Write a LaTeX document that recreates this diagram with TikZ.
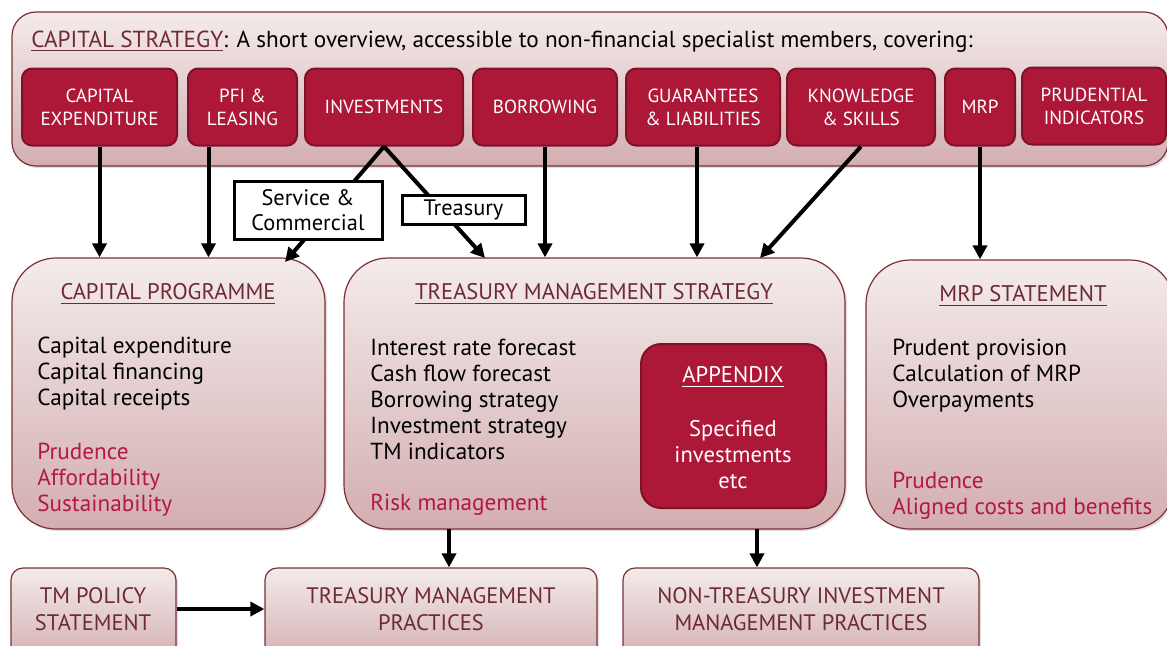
\documentclass[tikz,border=0pt]{standalone}
\usepackage{fontspec}
\setmainfont{PT Sans}
\usetikzlibrary{arrows.meta, fit, calc, shadows}

\definecolor{capred}{HTML}{AD1838}
\definecolor{capredline}{HTML}{7E1228}
\definecolor{boxtop}{HTML}{F4EBEB}
\definecolor{boxbot}{HTML}{D3AEB0}
\definecolor{boxline}{HTML}{7B3038}
\definecolor{headtxt}{HTML}{6E2A33}
\definecolor{redtxt}{HTML}{B31842}

\begin{document}
\begin{tikzpicture}[x=0.5pt, y=-0.5pt,
    panel/.style={draw=boxline, line width=0.6pt, top color=boxtop, bottom color=boxbot, inner sep=0pt,
        drop shadow={opacity=0.25, shadow xshift=1pt, shadow yshift=-1pt}},
    topic/.style={draw=capredline, line width=1pt, fill=capred, rounded corners=5pt, inner sep=0pt,
        minimum height=38.5pt, text=white, align=center, font=\fontsize{9.5}{11.5}\selectfont},
    flow/.style={line width=2pt, -{Triangle[length=7pt,width=7pt]}},
    tag/.style={draw, line width=1.5pt, fill=white, inner sep=0pt, align=center, font=\fontsize{11.2}{12.8}\selectfont},
    head/.style={text=headtxt, font=\fontsize{11.3}{13}\selectfont},
    item/.style={anchor=west, align=left, inner sep=0pt, font=\fontsize{11.6}{13}\selectfont},
    foot/.style={text=headtxt, align=center, font=\fontsize{11.2}{13.5}\selectfont},
]
\useasboundingbox (0,0) rectangle (1167,645);
\clip (0,0) rectangle (1167,645);

% capital strategy band
\node[panel, rounded corners=12pt, fit={(12,12) (1168,166)}] (strategy) {};
\node[anchor=west, inner sep=0pt, font=\fontsize{11.6}{13}\selectfont] (title) at (31,42)
    {\textcolor{headtxt}{\underline{CAPITAL STRATEGY}}: A short overview, accessible to non-financial specialist members, covering:};
\node[topic, minimum width=77.5pt] (capex) at (99.5,107) {CAPITAL\\EXPENDITURE};
\node[topic, minimum width=54.5pt] (pfi) at (242.5,107) {PFI \&\\LEASING};
\node[topic, minimum width=79pt] (invest) at (384,107) {INVESTMENTS};
\node[topic, minimum width=72pt] (borrow) at (545,107) {BORROWING};
\node[topic, minimum width=77pt] (guarant) at (703,107) {GUARANTEES\\\& LIABILITIES};
\node[topic, minimum width=74pt] (skills) at (861,107) {KNOWLEDGE\\\& SKILLS};
\node[topic, minimum width=35pt] (mrp) at (980,107) {MRP};
\node[topic, minimum width=72pt] (prudent) at (1094,106) {PRUDENTIAL\\INDICATORS};

% capital programme
\node[panel, rounded corners=22pt, fit={(12,258) (325,529)}] (cprog) {};
\node[head] (cprog title) at (168,294) {\underline{CAPITAL PROGRAMME}};
\node[item] (cprog list) at (37,373.5) {Capital expenditure\\Capital financing\\Capital receipts};
\node[item, text=redtxt] (cprog tests) at (37,479.5) {Prudence\\Affordability\\Sustainability};

% treasury management strategy
\node[panel, rounded corners=22pt, fit={(344,258) (845,529)}] (tms) {};
\node[head] (tms title) at (594,294) {\underline{TREASURY MANAGEMENT STRATEGY}};
\node[item] (tms list) at (370,399.5) {Interest rate forecast\\Cash flow forecast\\Borrowing strategy\\Investment strategy\\TM indicators};
\node[item, text=redtxt] (tms risk) at (370,505) {Risk management};
\node[topic, rounded corners=10pt, fit={(641,344) (826,508)}] (appendix) {};
\node[text=white, font=\fontsize{11.3}{13}\selectfont] (app title) at (733,377) {\underline{APPENDIX}};
\node[text=white, align=center, font=\fontsize{11.3}{13}\selectfont] (app text) at (733,455) {Specified\\investments\\etc};

% mrp statement
\node[panel, rounded corners=22pt, fit={(866,260) (1174,529)}] (mrps) {};
\node[head] (mrps title) at (1023,296) {\underline{MRP STATEMENT}};
\node[item] (mrps list) at (892,375.5) {Prudent provision\\Calculation of MRP\\Overpayments};
\node[item, text=redtxt] (mrps tests) at (892,495.5) {Prudence\\Aligned costs and benefits};

% practices
\node[panel, rounded corners=6pt, fit={(11,568) (176,662)}] (policy) {};
\node[foot] (policy text) at (93,609) {TM POLICY\\STATEMENT};
\node[panel, rounded corners=6pt, fit={(265,568) (597,662)}] (tmp) {};
\node[foot] (tmp text) at (431,609) {TREASURY MANAGEMENT\\PRACTICES};
\node[panel, rounded corners=6pt, fit={(623,568) (979,662)}] (ntimp) {};
\node[foot] (ntimp text) at (801,609) {NON-TREASURY INVESTMENT\\MANAGEMENT PRACTICES};

% connectors
\coordinate (pfi foot) at ($(pfi.south)+(-34,0)$);
\coordinate (guar foot) at ($(guarant.south)+(-6,0)$);
\coordinate (sc end) at (285,262);
\coordinate (tr end) at (485,258);
\coordinate (ks end) at (760,258);
\coordinate (tms left) at (449,529);
\coordinate (tms right) at (757,529);
\draw[flow] (capex.south) -- (capex.south |- cprog.north);
\draw[flow] (pfi foot) -- (pfi foot |- cprog.north);
\draw[flow] (invest.south) -- (sc end);
\draw[flow] (invest.south) -- (tr end);
\draw[flow] (borrow.south) -- (borrow.south |- tms.north);
\draw[flow] (guar foot) -- (guar foot |- tms.north);
\draw[flow] (skills.south) -- (ks end);
\draw[flow] (mrp.south) -- (mrp.south |- mrps.north);
\draw[flow] (tms left) -- (tms left |- tmp.north);
\draw[flow] (tms right) -- (tms right |- ntimp.north);
\draw[flow] (policy.east |- policy text) -- (tmp.west |- policy text);

% investment split
\node[tag, minimum width=74pt, minimum height=29pt] (service) at (308,210) {Service \&\\Commercial};
\node[tag, minimum width=61.5pt, minimum height=14.5pt] (treasury) at (463.5,209.5) {Treasury};
\end{tikzpicture}
\end{document}
